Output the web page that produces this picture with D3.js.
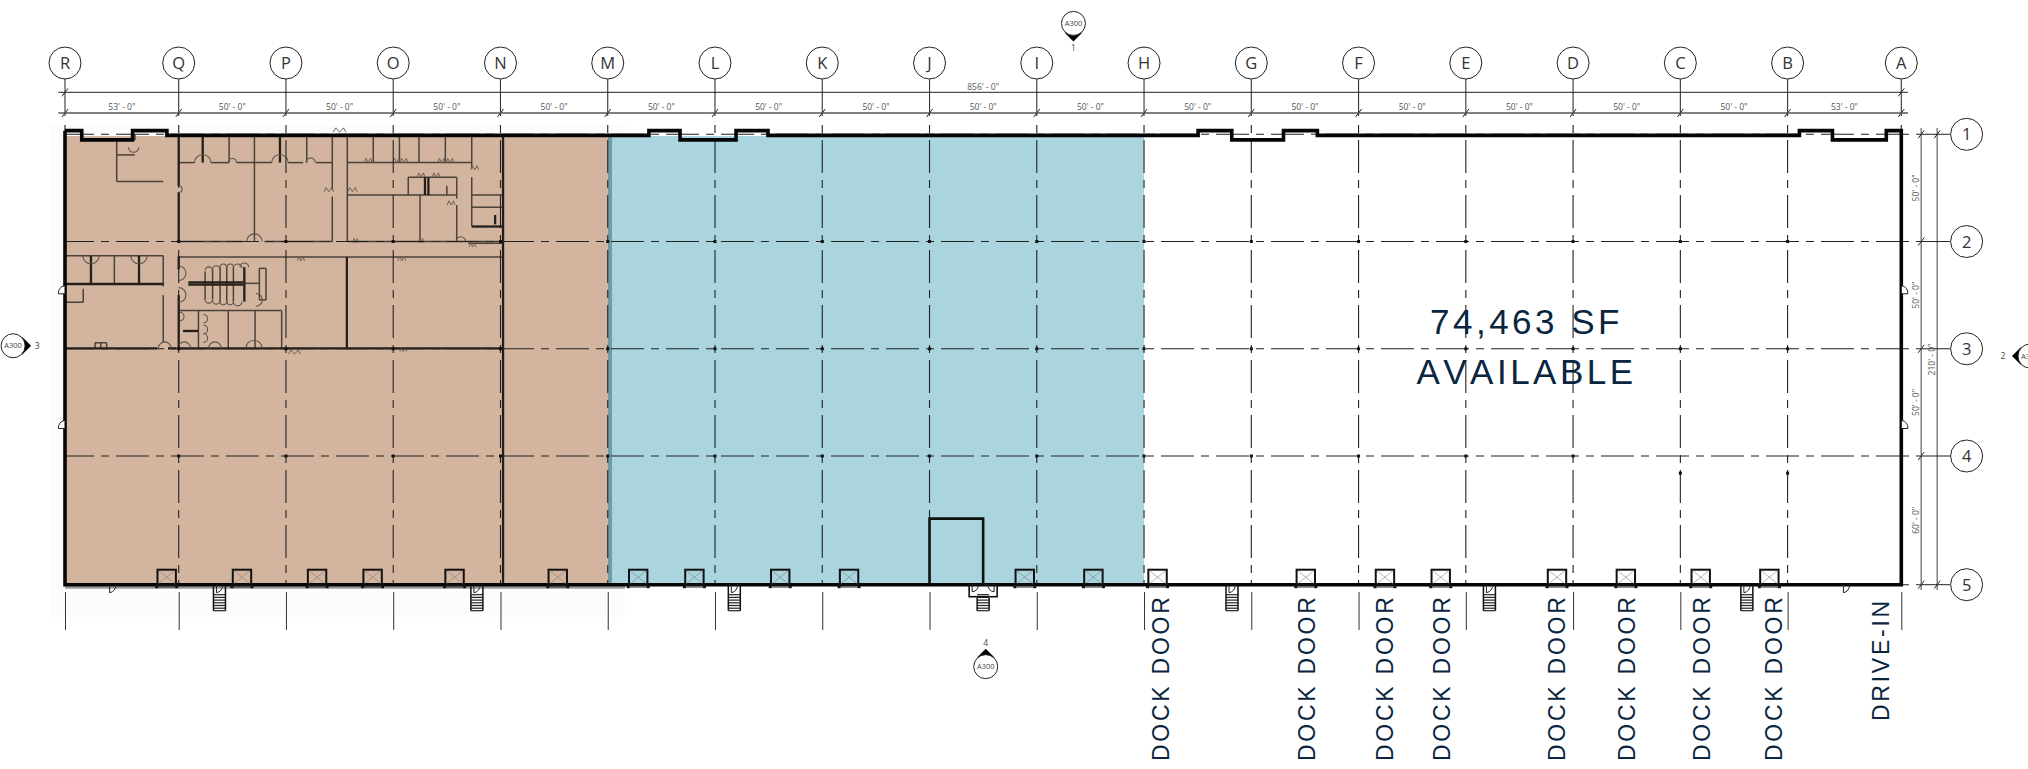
<!DOCTYPE html>
<html>
<head>
<meta charset="utf-8">
<script src="https://cdn.jsdelivr.net/npm/d3@7"></script>
<style>
  html, body { margin: 0; padding: 0; background: #fff; }
  svg { display: block; }
  .dim { font-family: "Open Sans", sans-serif; font-size: 8.5px; fill: #555; text-anchor: middle; }
  .bubble { font-family: "Liberation Sans Narrow", "Open Sans", sans-serif; font-size: 16.5px; fill: #333; text-anchor: middle; }
  .big { font-family: "Liberation Sans", sans-serif; font-size: 35px; fill: #0a2540; letter-spacing: 3.5px; text-anchor: middle; font-kerning: none; }
  .door-label { font-family: "Liberation Sans", sans-serif; font-size: 23px; fill: #0a2540; letter-spacing: 2.75px; }
  .sec { font-family: "Liberation Sans Narrow", "Open Sans", sans-serif; fill: #444; text-anchor: middle; }
</style>
</head>
<body>
<svg width="2028" height="769"></svg>
<script>
// everything below is in plan feet, measured from grid R / grid 1
let colNames = ["R","Q","P","O","N","M","L","K","J","I","H","G","F","E","D","C","B","A"]
let bayWidths = [53,50,50,50,50,50,50,50,50,50,50,50,50,50,50,50,53]
let rowNames = ["1","2","3","4","5"]
let rowDepths = [50,50,50,60]
let overallLabel = "856' - 0\""
let depthLabel = "210' - 0\""
let tanSpan = [0,253]
let seamSpan = [253,255.2]
let blueSpan = [255.2,503]
let areaLines = ["74,463 SF","AVAILABLE"]

let dockDoors = [47.4,82.5,117.5,143.4,181.6,229.7,267.2,293.4,333.4,365.5,447.4,479.4,509.3,578.4,615.3,641.3,695.5,727.6,762.5,794.5]
let dockLabels = [514.6,582.8,619.1,645.4,699.4,732,766.7,800.6]
let driveInLabel = 850.3
let stairs = [72,192,312,428,544,664,784]
let extraColumnDots = [[753,158],[803,158]]
// exterior wall outline, with the entry recesses along the north side
let outerWall = [[0,-1.7],[7.8,-1.7],[7.8,2.6],[31.5,2.6],[31.5,-1.7],[47.5,-1.7],[47.5,0.5],
  [272.2,0.5],[272.2,-1.7],[286.7,-1.7],[286.7,2.6],[312.8,2.6],[312.8,-1.7],[327.7,-1.7],[327.7,0.5],
  [528.2,0.5],[528.2,-1.7],[543.9,-1.7],[543.9,2.6],[568,2.6],[568,-1.7],[583.8,-1.7],[583.8,0.5],
  [808.5,0.5],[808.5,-1.7],[823.9,-1.7],[823.9,2.6],[849,2.6],[849,-1.7],[856,-1.7],[856,210],[0,210],[0,-1.7]]
let innerBox = [[403,210],[403,179.2],[428,179.2],[428,210]]

// x1,y1,x2,y2 office partitions
let thinWalls = [[53,13.2,60.4,13.2],[68,13.2,76.5,13.2],[80,13.2,96.4,13.2],[104,13.2,111,13.2],[117,13.2,124.6,13.2],[131.6,13.2,189.6,13.2],
  [76.5,0,76.5,13.2],[88.3,0,88.3,50],[112.7,0,112.7,13.2],[124.6,0,124.6,26],[124.6,29,124.6,50],[131.6,0,131.6,50],
  [143.7,0,143.7,13.2],[155.9,0,155.9,13.2],[165,0,165,13.2],[177.3,0,177.3,13.2],[189.6,0,189.6,16],[189.6,20,189.6,43],
  [131.6,28.3,182.6,28.3],[160,20,160,28.3],[160,20,182.6,20],[182.6,20,182.6,30],[182.6,33,182.6,50],[165.5,28.3,165.5,50],[178,24,178,28.3],
  [189.6,28.3,204,28.3],[189.6,34,204,34],[53,50,83,50],[93,50,124.6,50],[131.6,50,204,50],[188,50.8,204,50.8],[53,57.2,204,57.2],
  [0,56.6,45.8,56.6],[23,56.6,23,69.8],[45.8,56.6,45.8,71],[45.8,75,45.8,97],[0,78.3,8.5,78.3],[8.5,72,8.5,78.3],
  [53,82.2,101,82.2],[62.2,82.2,62.2,99.8],[76.1,82.2,76.1,99.8],[88.6,82.2,88.6,99.8],[101,82.2,101,100],
  [65.3,64,65.3,77],[68.8,63,68.8,77],[72.3,62,72.3,78],[75.4,62,75.4,78],[78.5,62,78.5,78],[83.6,69.5,90.6,69.5],
  [90.6,62.5,93.7,62.5],[90.6,77.2,93.7,77.2],[90.6,62.5,90.6,77.2],[93.7,62.5,93.7,77.2],[14,97.2,19.4,97.2],[14,97.2,14,99.8],[16.7,97.2,16.7,99.8],[19.4,97.2,19.4,99.8],
  [24.1,2.6,24.1,22],[24.1,22,45.8,22],[24.1,9.6,32.6,9.6],[32.6,0,32.6,2.6]]
let heavyWalls = [[53,0,53,24],[53,27,53,50],[64.2,0,64.2,13.2],[100.2,0,100.2,13.2],[167.8,20,167.8,28.3],[169.4,20,169.4,28.3],
  [189.6,43,204,43],[200.5,37.6,200.5,42],[12.1,56.6,12.1,69.8],[34.5,56.6,34.5,69.8],[0,69.8,45.8,69.8],[0,99.8,43,99.8],[48,99.8,52,99.8],
  [53,99.8,204,99.8],[53,57,53,63],[53,75,53,99.8],[55,91.7,62,91.7],[131.4,57.2,131.4,99.8],[57.5,69,83.1,69],[57.5,70.1,83.1,70.1],[83.6,62,83.6,78],[204.2,0,204.2,210]]
// x, y, radius, side of the wall the door leaf swings to
let doorArcs = [[64.2,13.2,3.8,"n"],[78,13.2,1.9,"n"],[100.2,13.2,3.8,"n"],[114.5,13.2,2.2,"n"],[88.3,50,3.6,"n"],
  [12.1,56.6,3.8,"s"],[34.5,56.6,3.8,"s"],[55.6,99.8,3,"n"],[69.9,99.8,3,"n"],[88.1,99.8,3.8,"n"],[46.5,99.8,3,"n"],
  [53,25.5,1.6,"e"],[53,64.8,3.4,"e"],[53,74.9,3.4,"e"],[53.5,85,2,"e"],[184.5,50,2.2,"n"],[89,77.2,3,"e"],
  [32,6,2.4,"s"],[83.6,62,2,"n"],
  [67,63.5,1.7,"n"],[70.5,63,1.7,"n"],[73.8,62,1.5,"n"],[77,62,1.5,"n"],[80.5,62.5,2,"n"],
  [67,77,1.7,"s"],[70.5,77.5,1.7,"s"],[73.8,78,1.5,"s"],[77,78,1.5,"s"],[80.5,78,2,"s"],
  [64.5,86,2,"e"],[64.5,91,2,"e"],[64.5,95,2,"e"]]
// x, y, half width of the small door wedges
let wedges = [[141.4,13.2,1.8],[154.6,13.2,1.8],[158,13.2,1.8],[175.6,13.2,1.8],[179.5,13.2,1.8],[128,-1,3],
  [123,26.8,2.2],[134,26.8,2.2],[191,16.6,1.8],[166,20,1.8],[173,20,1.8],[180,33,1.8],[107,102.5,2.8],[157.7,101.3,1.6],
  [135.5,50.6,1.2],[166,50.6,1.2],[110,59,1.6],[157,59,1.8],[190,52.5,1.5]]
// outside door swings, on the wall faces
let swingsSouth = [22.2,72,192,312,544,664,784,830.4]
let swingsWest = [72.5,135.3]
let swingsEast = [72.5,135.3]
// x, y, direction, sheet, number
let sectionRef = [[470.1,-51.7,"s","A300","1"],[429.2,248.2,"n","A300","4"],[-24.2,98.6,"e","A300","3"],[916,103.4,"w","A300","2"]]

let cumCols = [0]
bayWidths.forEach(w => cumCols.push(cumCols[cumCols.length-1] + w))
let cumRows = [0]
rowDepths.forEach(d => cumRows.push(cumRows[cumRows.length-1] + d))

let x = d3.scaleLinear().domain([0,856]).range([65,1901.3])
let y = d3.scaleLinear().domain([0,210]).range([134.3,584.7])
let len = d => x(d) - x(0)

let svg = d3.select("svg")

// faint scan halo behind the pasted office plan
svg.append("rect").attr("x",50).attr("y",125).attr("width",575).attr("height",492).attr("fill","#fcfcfc")

// tenant areas
let fills = [[tanSpan,"#d3b59f"],[seamSpan,"#6f9ca6"],[blueSpan,"#aad4de"]]
svg.selectAll("rect.area").data(fills).enter().append("rect").attr("class","area")
  .attr("x", d => x(d[0][0]))
  .attr("width", d => len(d[0][1]) - len(d[0][0]))
  .attr("y", y(0) + 1.7)
  .attr("height", y(210) - y(0) - 1.7)
  .attr("fill", d => d[1])

// office partitions
function wallLines(data, width, color){
  svg.append("g").selectAll("line").data(data).enter().append("line")
    .attr("x1", d => x(d[0])).attr("y1", d => y(d[1]))
    .attr("x2", d => x(d[2])).attr("y2", d => y(d[3]))
    .attr("stroke", color).attr("stroke-width", width)
}
wallLines(thinWalls, 1.5, "#4a4238")
wallLines(heavyWalls, 2.3, "#241f1a")

let doorPath = function(d){
  let cx = x(d[0]), cy = y(d[1]), r = len(d[2])
  let sw = d[3] == "n" || d[3] == "e" ? 1 : 0
  if (d[3] == "n" || d[3] == "s"){
    return "M" + (cx-r) + "," + cy + " A" + r + "," + r + " 0 0 " + sw + " " + (cx+r) + "," + cy
  }
  return "M" + cx + "," + (cy-r) + " A" + r + "," + r + " 0 0 " + sw + " " + cx + "," + (cy+r)
}
svg.append("g").selectAll("path").data(doorArcs).enter().append("path")
  .attr("d", doorPath).attr("fill","none").attr("stroke","#5d544a").attr("stroke-width",1.1)
svg.append("g").selectAll("path").data(wedges).enter().append("path")
  .attr("d", d => "M" + x(d[0]-d[2]) + "," + y(d[1]) + " L" + x(d[0]-d[2]*.6) + "," + y(d[1]-2) + " L" + x(d[0]) + "," + y(d[1]) + " L" + x(d[0]+d[2]*.6) + "," + y(d[1]-2) + " L" + x(d[0]+d[2]) + "," + y(d[1]))
  .attr("fill","none").attr("stroke","#6c6257").attr("stroke-width",1)

// grid lines, dash-dot as drawn
let gridDash = "33,7,8,7"
svg.append("g").selectAll("line").data(rowNames).enter().append("line")
  .attr("x1", 64).attr("x2", 1921)
  .attr("y1", (d,i) => y(cumRows[i])).attr("y2", (d,i) => y(cumRows[i]))
  .attr("stroke","#222").attr("stroke-width",1.1)
  .attr("stroke-dasharray", gridDash).attr("stroke-dashoffset", 3)
svg.append("g").selectAll("line").data(colNames).enter().append("line")
  .attr("x1", (d,i) => x(cumCols[i])).attr("x2", (d,i) => x(cumCols[i]))
  .attr("y1", 125).attr("y2", y(210))
  .attr("stroke","#222").attr("stroke-width",1.1)
  .attr("stroke-dasharray", "8,7,33,7")

// column dots on the grid crossings
let dots = []
cumCols.slice(1,17).forEach(c => cumRows.slice(1,4).forEach((r,i) => { if (!(i == 2 && c > 720)) dots.push([c,r]) }))
extraColumnDots.forEach(d => dots.push(d))
svg.append("g").selectAll("rect").data(dots).enter().append("rect")
  .attr("x", d => x(d[0])-1.5).attr("y", d => y(d[1])-1.5)
  .attr("width",3).attr("height",3).attr("fill","#111")

// walls
let wallLine = d3.line().x(d => x(d[0])).y(d => y(d[1]))
svg.append("rect").attr("x",65).attr("width",560).attr("y",y(210)+1.5).attr("height",2.5).attr("fill","#999")
svg.append("path").datum(outerWall).attr("d", wallLine)
  .attr("fill","none").attr("stroke","#050505").attr("stroke-width",3.6).attr("stroke-linejoin","miter")
svg.append("path").datum(innerBox).attr("d", wallLine)
  .attr("fill","none").attr("stroke","#111").attr("stroke-width",2.6)

// dock doors
let dock = svg.append("g").selectAll("g").data(dockDoors).enter().append("g")
  .attr("transform", d => "translate(" + x(d) + "," + y(210) + ")")
dock.append("rect").attr("x",-9.2).attr("y",-15).attr("width",18.4).attr("height",15)
  .attr("fill","none").attr("stroke","#111").attr("stroke-width",2)
dock.append("path").attr("d","M-8,-14 L8,-1 M8,-14 L-8,-1")
  .attr("fill","none").attr("stroke","#777").attr("stroke-opacity",.6).attr("stroke-width",.9)
dock.append("rect").attr("x",-11.5).attr("y",0).attr("width",3).attr("height",3.5).attr("fill","#111")
dock.append("rect").attr("x",8.5).attr("y",0).attr("width",3).attr("height",3.5).attr("fill","#111")
dock.append("line").attr("x1",-9).attr("x2",9).attr("y1",2.5).attr("y2",2.5).attr("stroke","#333").attr("stroke-width",.8)

// man doors and stairs on the south side
let treadOffsets = [10,12.7,15.4,18.1,20.8,23.5,26]
let stair = svg.append("g").selectAll("g").data(stairs).enter().append("g")
  .attr("transform", d => "translate(" + x(d) + "," + y(210) + ")")
stair.append("path").attr("d", (d,i) => i == 3 ? "M-6,13 V26 M6,13 V26" : "M-6,0 V26 M6,0 V26")
  .attr("fill","none").attr("stroke","#111").attr("stroke-width",1.5)
stair.selectAll("line").data(treadOffsets).enter().append("line")
  .attr("x1",-6).attr("x2",6).attr("y1",d => d).attr("y2",d => d)
  .attr("stroke","#222").attr("stroke-width",1.2)
svg.append("rect").attr("x",x(428)-14).attr("y",y(210)).attr("width",28).attr("height",12)
  .attr("fill","none").attr("stroke","#111").attr("stroke-width",1.6)
svg.append("path")
  .attr("d","M" + (x(428)-11) + "," + y(210) + " v7 a6,6 0 0 0 6,-7 M" + (x(428)+11) + "," + y(210) + " v7 a6,6 0 0 1 -6,-7")
  .attr("fill","none").attr("stroke","#222").attr("stroke-width",1)
svg.append("g").selectAll("path").data(swingsSouth).enter().append("path")
  .attr("d", d => "M" + (x(d)-3) + "," + y(210) + " v8 a7,7 0 0 0 6,-8")
  .attr("fill","none").attr("stroke","#222").attr("stroke-width",1)
svg.append("g").selectAll("path").data(swingsWest).enter().append("path")
  .attr("d", d => "M" + (x(0)-0.5) + "," + (y(d)+4) + " h-6 a7,7 0 0 1 6,-8")
  .attr("fill","#fff").attr("stroke","#222").attr("stroke-width",1)
svg.append("g").selectAll("path").data(swingsEast).enter().append("path")
  .attr("d", d => "M" + (x(856)+0.5) + "," + (y(d)+4) + " h6 a7,7 0 0 0 -6,-8")
  .attr("fill","#fff").attr("stroke","#222").attr("stroke-width",1)

// column stubs under the building come off an axis
let stubs = svg.append("g").attr("transform","translate(0,592)")
  .call(d3.axisBottom(x).tickValues(cumCols).tickSize(38).tickFormat(""))
stubs.select(".domain").remove()
stubs.selectAll("line").attr("stroke","#333").attr("stroke-width",1)

// column bubbles and leaders
let slash = (px,py) => "M" + (px-3) + "," + (py+4) + " L" + (px+3) + "," + (py-4)
let col = svg.append("g").selectAll("g").data(colNames).enter().append("g")
  .attr("transform", (d,i) => "translate(" + x(cumCols[i]) + ",0)")
col.append("line").attr("y1",79).attr("y2",116).attr("stroke","#333").attr("stroke-width",1.1)
col.append("circle").attr("cy",63).attr("r",16).attr("fill","#fff").attr("stroke","#222").attr("stroke-width",1)
col.append("text").attr("class","bubble").attr("y",69).text(d => d)

// dimension strings across the top
svg.append("line").attr("x1",58.5).attr("x2",1908).attr("y1",92.3).attr("y2",92.3).attr("stroke","#222").attr("stroke-width",1)
svg.append("line").attr("x1",58.5).attr("x2",1908).attr("y1",113).attr("y2",113).attr("stroke","#808080").attr("stroke-width",2)
svg.append("path").attr("d", slash(x(0),92.3) + slash(x(856),92.3)).attr("stroke","#222").attr("fill","none")
svg.append("g").selectAll("path").data(cumCols).enter().append("path")
  .attr("d", d => slash(x(d),113)).attr("stroke","#222").attr("fill","none")
svg.append("g").selectAll("text").data(bayWidths).enter().append("text").attr("class","dim")
  .attr("x", (d,i) => x(cumCols[i] + d/2)).attr("y",110)
  .text(d => d + "' - 0\"")
svg.append("text").attr("class","dim").attr("x",x(428)).attr("y",90).text(overallLabel)

// row side: dimension strings and bubbles
let dimA = 1921.2, dimB = 1937.2
svg.append("line").attr("x1",dimA).attr("x2",dimA).attr("y1",128).attr("y2",590).attr("stroke","#808080").attr("stroke-width",1.5)
svg.append("line").attr("x1",dimB).attr("x2",dimB).attr("y1",128).attr("y2",590).attr("stroke","#808080").attr("stroke-width",1.5)
let row = svg.append("g").selectAll("g").data(rowNames).enter().append("g")
  .attr("transform", (d,i) => "translate(0," + y(cumRows[i]) + ")")
row.append("line").attr("x1",dimA).attr("x2",1950).attr("stroke","#222").attr("stroke-width",1)
row.append("path").attr("d", (d,i) => slash(dimA,0) + (i == 0 || i == 4 ? slash(dimB,0) : "")).attr("stroke","#222").attr("fill","none")
row.append("circle").attr("cx",1966.6).attr("r",16).attr("fill","#fff").attr("stroke","#222").attr("stroke-width",1)
row.append("text").attr("class","bubble").attr("x",1966.6).attr("y",6).text(d => d)
svg.append("g").selectAll("text").data(rowDepths).enter().append("text").attr("class","dim")
  .attr("transform", (d,i) => "translate(1918.5," + y(cumRows[i] + d/2) + ") rotate(-90)")
  .text(d => d + "' - 0\"")
svg.append("text").attr("class","dim")
  .attr("transform","translate(1934.5," + y(105) + ") rotate(-90)").text(depthLabel)

// section markers
let secAngle = {s:0, w:90, n:180, e:270}
let sec = svg.append("g").selectAll("g").data(sectionRef).enter().append("g")
  .attr("transform", d => "translate(" + x(d[0]) + "," + y(d[1]) + ")")
sec.append("path").attr("transform", d => "rotate(" + secAngle[d[2]] + ")")
  .attr("d","M-9,9 L0,18 L9,9 Z").attr("fill","#000")
sec.append("circle").attr("r",12).attr("fill","#fff").attr("stroke","#222").attr("stroke-width",1)
sec.append("text").attr("class","sec").attr("font-size",7.5).attr("y",2.6).text(d => d[3])
sec.append("text").attr("class","sec").attr("font-size",8.5)
  .attr("x", d => d[2] == "e" ? 24 : d[2] == "w" ? -27 : 0)
  .attr("y", d => d[2] == "s" ? 28 : d[2] == "n" ? -21 : 3)
  .text(d => d[4])

// area callout
svg.selectAll("text.big").data(areaLines).enter().append("text").attr("class","big")
  .attr("x",1526.5).attr("y",(d,i) => i == 0 ? 334.3 : 383.5).text(d => d)

// rotated door labels
svg.append("g").selectAll("text").data(dockLabels).enter().append("text").attr("class","door-label")
  .attr("transform", d => "translate(" + x(d) + ",761) rotate(-90)").text("DOCK DOOR")
svg.append("text").attr("class","door-label")
  .attr("transform","translate(" + x(driveInLabel) + ",721) rotate(-90)").text("DRIVE-IN")
</script>
</body>
</html>
